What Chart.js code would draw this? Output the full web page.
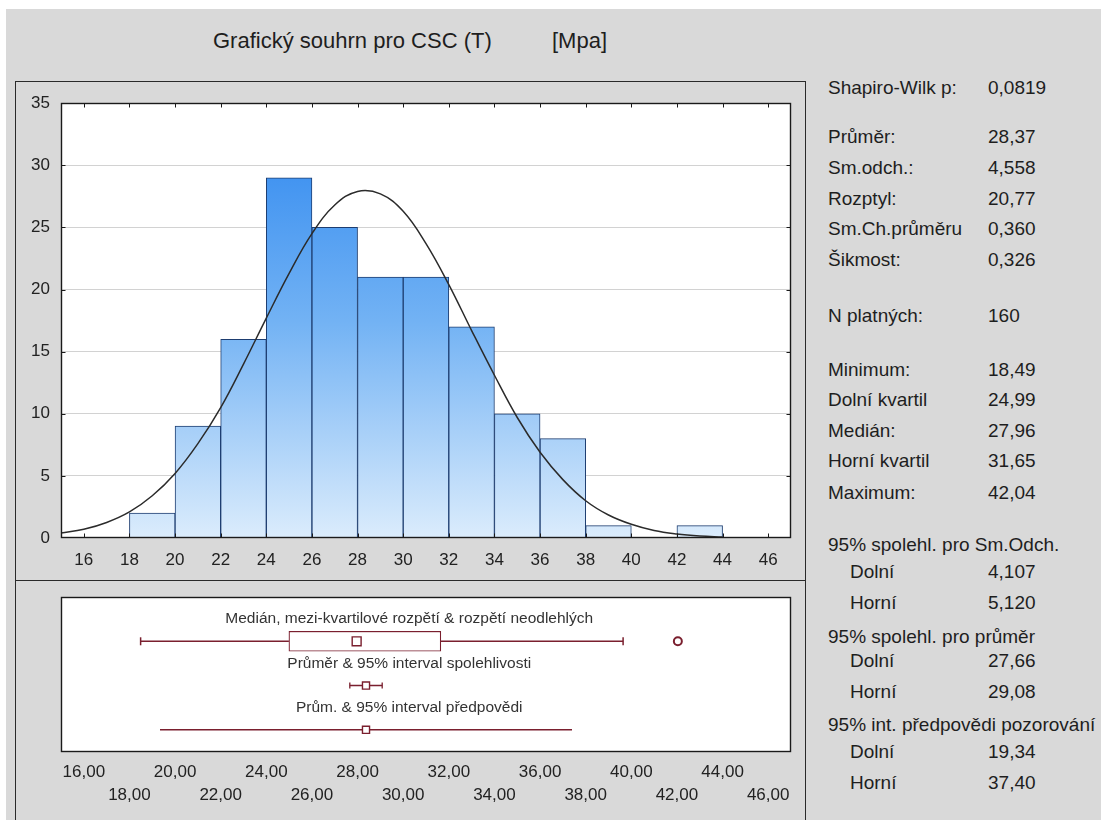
<!DOCTYPE html>
<html lang="cs">
<head>
<meta charset="utf-8">
<title>Grafický souhrn pro CSC (T)</title>
<script src="https://cdn.jsdelivr.net/npm/chart.js@4.4.1/dist/chart.umd.min.js"></script>
<style>
  html, body { margin: 0; padding: 0; background: #fff; }
  body { width: 1101px; height: 820px; position: relative; overflow: hidden;
         font-family: "Liberation Sans", Arial, sans-serif; color: #1e1e1e; }
  #bg { position: absolute; left: 6px; top: 9px; right: 0; bottom: 0; background: #d9d9d9; }
  .abs { position: absolute; white-space: nowrap; }
  #title { left: 213px; top: 28px; font-size: 22px; line-height: 26px; }
  #unit { left: 552px; top: 28px; font-size: 22px; line-height: 26px; }
  #frame { left: 15px; top: 81px; width: 791px; height: 760px; box-sizing: border-box;
           border: 1px solid #2a2a2a; border-bottom: none; }
  #divider { left: 15px; top: 580px; width: 791px; height: 1px; background: #2a2a2a; }
  #hist { left: 16px; top: 82px; }
  #box { left: 16px; top: 582px; }
  .stat { font-size: 19px; line-height: 22px; }
</style>
</head>
<body>
<div id="bg"></div>
<div class="abs" id="title">Grafický souhrn pro CSC (T)</div>
<div class="abs" id="unit">[Mpa]</div>
<div class="abs" id="frame"></div>
<div class="abs" id="divider"></div>
<canvas class="abs" id="hist" width="789" height="498"></canvas>
<canvas class="abs" id="box" width="789" height="236"></canvas>
<div id="stats"></div>

<script>
// histogram
const binWidth = 2;
const binStarts = [18, 20, 22, 24, 26, 28, 30, 32, 34, 36, 38, 40, 42];
const binCounts = [2, 9, 16, 29, 25, 21, 21, 17, 10, 8, 1, 0, 1];

// fitted normal curve
const normX = [15, 16, 17, 18, 19, 20, 21, 22, 23, 24, 25, 26, 27, 28, 29, 30,
               31, 32, 33, 34, 35, 36, 37, 38, 39, 40, 41, 42, 43, 44];
const normY = [0.4, 0.7, 1.25, 2.1, 3.4, 5.2, 7.6, 10.5, 14.0, 17.7, 21.3, 24.5, 26.8, 27.9, 27.7, 26.3,
               23.7, 20.4, 16.7, 13.1, 9.7, 6.9, 4.7, 3.0, 1.85, 1.1, 0.6, 0.32, 0.16, 0.08];

const xTicks = [16, 18, 20, 22, 24, 26, 28, 30, 32, 34, 36, 38, 40, 42, 44, 46];
const yTicks = [0, 5, 10, 15, 20, 25, 30, 35];

// box plot values
const minimum = 18.49;
const q1 = 24.99;
const median = 27.96;
const q3 = 31.65;
const maximum = 42.04;
const whiskerHi = 39.64;
const outliers = [42.04];
const mean = 28.37;
const meanCi = [27.66, 29.08];
const predInt = [19.34, 37.40];
const boxRows = [1, 2, 3];
const boxRowLabels = [
  "Medián, mezi-kvartilové rozpětí & rozpětí neodlehlých",
  "Průměr & 95% interval spolehlivosti",
  "Prům. & 95% interval předpovědi"
];

// statistics panel
const statRows = [
  ["Shapiro-Wilk p:", "0,0819"],
  ["Průměr:", "28,37"],
  ["Sm.odch.:", "4,558"],
  ["Rozptyl:", "20,77"],
  ["Sm.Ch.průměru", "0,360"],
  ["Šikmost:", "0,326"],
  ["N platných:", "160"],
  ["Minimum:", "18,49"],
  ["Dolní kvartil", "24,99"],
  ["Medián:", "27,96"],
  ["Horní kvartil", "31,65"],
  ["Maximum:", "42,04"],
  ["95% spolehl. pro Sm.Odch.", ""],
  ["Dolní", "4,107", true],
  ["Horní", "5,120", true],
  ["95% spolehl. pro průměr", ""],
  ["Dolní", "27,66", true],
  ["Horní", "29,08", true],
  ["95% int. předpovědi pozorování", ""],
  ["Dolní", "19,34", true],
  ["Horní", "37,40", true]
];
const statY = [88, 137, 168, 199, 229, 260, 316, 370, 400, 431, 461, 493,
               545, 572, 603, 637, 661, 692, 725, 752, 783];

const stats = document.getElementById("stats");
statRows.forEach((r, i) => {
  const lab = document.createElement("div");
  lab.className = "abs stat";
  lab.style.left = (r[2] ? 850 : 828) + "px";
  lab.style.top = (statY[i] - 11) + "px";
  lab.textContent = r[0];
  stats.appendChild(lab);
  if (r[1]) {
    const val = document.createElement("div");
    val.className = "abs stat";
    val.style.left = "988px";
    val.style.top = (statY[i] - 11) + "px";
    val.textContent = r[1];
    stats.appendChild(val);
  }
});

Chart.defaults.font.family = '"Liberation Sans", Arial, sans-serif';
Chart.defaults.color = "#222";

const maroon = "#7a1f2e";

// white plot area, dark frame, small inward ticks
const framePlugin = {
  id: "frame",
  beforeDatasetsDraw(chart) {
    const { ctx, chartArea: a } = chart;
    ctx.save();
    ctx.fillStyle = "#fff";
    ctx.fillRect(a.left, a.top, a.width, a.height);
    ctx.restore();
    // redraw grid on top of white fill
    if (chart.scales.y.options.display) chart.scales.y.drawGrid(chart.chartArea);
  },
  afterDatasetsDraw(chart, args, opts) {
    const { ctx, chartArea: a } = chart;
    const L = Math.round(a.left) + 0.5, T = Math.round(a.top) + 0.5;
    const R = Math.round(a.right) - 0.5, B = Math.round(a.bottom) - 0.5;
    ctx.save();
    ctx.strokeStyle = "#1a1a1a";
    ctx.lineWidth = 1.4;
    ctx.strokeRect(L, T, R - L, B - T);
    if (opts.ticks) {
      ctx.lineWidth = 1;
      ctx.beginPath();
      xTicks.forEach(v => {
        const px = Math.round(chart.scales.x.getPixelForValue(v)) + 0.5;
        ctx.moveTo(px, T); ctx.lineTo(px, T + 4);
        ctx.moveTo(px, B); ctx.lineTo(px, B - 4);
      });
      yTicks.slice(1, -1).forEach(v => {
        const py = Math.round(chart.scales.y.getPixelForValue(v)) + 0.5;
        ctx.moveTo(L, py); ctx.lineTo(L + 4, py);
        ctx.moveTo(R, py); ctx.lineTo(R - 4, py);
      });
      ctx.stroke();
    }
    ctx.restore();
  }
};

function barGradient(chart) {
  const a = chart.chartArea;
  if (!a) return "#7fb8f5";
  const g = chart.ctx.createLinearGradient(0, a.top, 0, a.bottom);
  g.addColorStop(0, "#2a85ef");
  g.addColorStop(0.5, "#72b2f4");
  g.addColorStop(1, "#dbecfc");
  return g;
}

new Chart(document.getElementById("hist"), {
  type: "bar",
  data: {
    datasets: [
      {
        type: "line",
        data: normX.map((x, i) => ({ x: x, y: normY[i] })),
        borderColor: "#2b2b2b",
        borderWidth: 1.5,
        pointRadius: 0,
        tension: 0.4,
        order: 0
      },
      {
        type: "bar",
        data: binStarts.map((s, i) => ({ x: s + binWidth / 2, y: binCounts[i] })),
        backgroundColor: ctx => barGradient(ctx.chart),
        borderColor: "#1d3d70",
        borderWidth: 1,
        barPercentage: 1,
        categoryPercentage: 1,
        order: 1
      }
    ]
  },
  options: {
    responsive: false,
    animation: false,
    layout: { padding: { left: 0, right: 14, top: 20, bottom: 0 } },
    plugins: { legend: { display: false }, tooltip: { enabled: false }, frame: { ticks: true } },
    scales: {
      x: {
        type: "linear", min: 15, max: 47, offset: false,
        afterBuildTicks: s => { s.ticks = xTicks.map(v => ({ value: v })); },
        afterFit: s => { s.height = 42; },
        grid: { display: false, drawTicks: false, offset: false },
        border: { display: false },
        ticks: { autoSkip: false, maxRotation: 0, minRotation: 0, padding: 12, font: { size: 17 } }
      },
      y: {
        min: 0, max: 35,
        afterBuildTicks: s => { s.ticks = yTicks.map(v => ({ value: v })); },
        afterFit: s => { s.width = 45; },
        grid: {
          drawTicks: false,
          color: c => (c.tick.value === 0 || c.tick.value === 35) ? "rgba(0,0,0,0)" : "#d2d2d2"
        },
        border: { display: false },
        ticks: { padding: 11, font: { size: 17 } }
      }
    }
  },
  plugins: [framePlugin]
});

const rowLabelPlugin = {
  id: "rowLabels",
  afterDatasetsDraw(chart) {
    const { ctx, scales: { x, y } } = chart;
    const cx = x.getPixelForValue((minimum + maximum) / 2);
    ctx.save();
    ctx.font = '15.5px "Liberation Sans", Arial, sans-serif';
    ctx.fillStyle = "#333";
    ctx.textAlign = "center";
    ctx.textBaseline = "middle";
    boxRowLabels.forEach((t, i) => ctx.fillText(t, cx, y.getPixelForValue(boxRows[i] - 0.5)));
    ctx.restore();
  }
};

const fmt = v => v.toFixed(2).replace(".", ",");

const segment = (a, b, row) => ({
  type: "line",
  data: [{ x: a, y: row }, { x: b, y: row }],
  borderColor: maroon,
  borderWidth: 1.5,
  pointRadius: 0,
  order: 3
});

new Chart(document.getElementById("box"), {
  type: "scatter",
  data: {
    datasets: [
      segment(minimum, q1, boxRows[0]),
      segment(q3, whiskerHi, boxRows[0]),
      segment(meanCi[0], meanCi[1], boxRows[1]),
      segment(predInt[0], predInt[1], boxRows[2]),
      {
        type: "bar",
        indexAxis: "y",
        data: [{ y: boxRows[0], x: [q1, q3] }],
        backgroundColor: "#fff",
        borderColor: maroon,
        borderWidth: 1.2,
        borderSkipped: false,
        barThickness: 20,
        order: 2
      },
      {
        // whisker caps
        data: [{ x: minimum, y: boxRows[0] }, { x: whiskerHi, y: boxRows[0] }],
        pointStyle: "line", rotation: 90, pointRadius: 4,
        borderColor: maroon, borderWidth: 1.5, order: 1
      },
      {
        data: [{ x: meanCi[0], y: boxRows[1] }, { x: meanCi[1], y: boxRows[1] }],
        pointStyle: "line", rotation: 90, pointRadius: 3,
        borderColor: maroon, borderWidth: 1.3, order: 1
      },
      {
        data: [{ x: median, y: boxRows[0] }],
        pointStyle: "rect", pointRadius: 6.3,
        backgroundColor: "#fff", borderColor: maroon, borderWidth: 1.4, order: 0
      },
      {
        data: [{ x: mean, y: boxRows[1] }, { x: mean, y: boxRows[2] }],
        pointStyle: "rect", pointRadius: 5,
        backgroundColor: "#fff", borderColor: maroon, borderWidth: 1.4, order: 0
      },
      {
        data: outliers.map(v => ({ x: v, y: boxRows[0] })),
        pointStyle: "circle", pointRadius: 4,
        backgroundColor: "#fff", borderColor: maroon, borderWidth: 2, order: 0
      }
    ]
  },
  options: {
    responsive: false,
    animation: false,
    layout: { padding: { left: 45, right: 14, top: 15, bottom: 0 } },
    plugins: { legend: { display: false }, tooltip: { enabled: false }, frame: { ticks: false } },
    scales: {
      x: {
        type: "linear", min: 15, max: 47, offset: false,
        afterBuildTicks: s => { s.ticks = xTicks.map(v => ({ value: v })); },
        afterFit: s => { s.height = 66; },
        grid: { display: false, drawTicks: false, offset: false },
        border: { display: false },
        ticks: {
          autoSkip: false, maxRotation: 0, minRotation: 0, padding: 8.5,
          font: { size: 17, lineHeight: 23 / 17 },
          callback: (v, i) => i % 2 ? ["", fmt(v)] : [fmt(v)]
        }
      },
      y: {
        type: "linear", display: false, reverse: true, min: 0, max: 3.5,
        offset: false, grid: { offset: false }
      }
    }
  },
  plugins: [framePlugin, rowLabelPlugin]
});
</script>
</body>
</html>
